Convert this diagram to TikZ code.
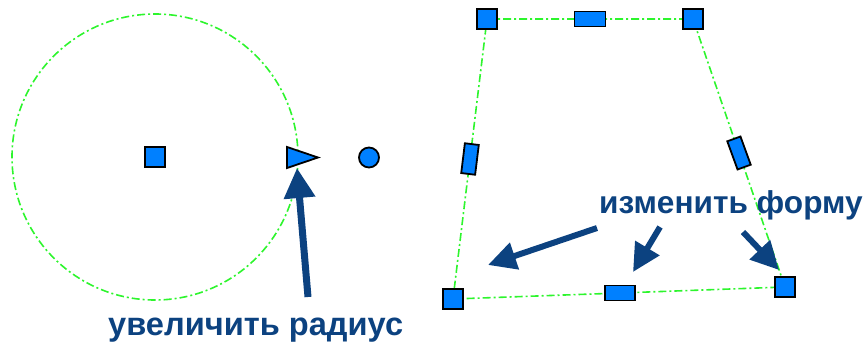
\documentclass[tikz,border=0pt]{standalone}
\usepackage{fontspec}
\setmainfont{Liberation Sans}
\usetikzlibrary{arrows.meta,backgrounds}
\definecolor{handleblue}{RGB}{0,128,255}
\definecolor{navy}{RGB}{12,66,128}
\definecolor{guide}{RGB}{45,245,45}
\begin{document}
\begin{tikzpicture}[x=1pt,y=-1pt,
  handle/.style={draw=black,line width=1.8pt,fill=handleblue,inner sep=0pt,rectangle},
  sq/.style={handle,minimum width=20pt,minimum height=20pt},
  guideline/.style={draw=guide,line width=1.6pt,dash pattern=on 8pt off 3pt on 2pt off 3pt},
  bigarrow/.style={draw=navy,line width=7pt,-{Triangle[length=30pt,width=30pt]}},
  midarrow/.style={draw=navy,line width=6pt,-{Triangle[length=28pt,width=27pt]}},
  lbl/.style={font=\bfseries\fontsize{32.6}{32.6}\selectfont,text=navy,inner sep=0pt,anchor=base west}]
\useasboundingbox (0,0) rectangle (866,343);
% circle
\node[sq] (cc) at (155,157) {};
\begin{scope}[on background layer]
\draw[guideline] (cc) circle[radius=143];
\end{scope}
\draw[handle] (287,147) -- (318,157.5) -- (287,168) -- cycle;
\coordinate (rtip) at (297,168);
\node[handle,circle,minimum size=20pt] (dot) at (369,157.5) {};
\coordinate (a1s) at (308,297);
\draw[bigarrow] (a1s) -- (rtip);
\node[lbl] (t1) at (108,335) {увеличить радиус};
% trapezoid
\node[sq] (tl) at (487,19) {};
\node[handle,minimum width=31pt,minimum height=15pt] (tm) at (590,19) {};
\node[sq] (tr) at (693,19) {};
\node[handle,minimum width=14pt,minimum height=30pt,rotate=-7] (lm) at (470,159) {};
\node[handle,minimum width=14pt,minimum height=30pt,rotate=20] (rm) at (739,153) {};
\node[sq] (bl) at (453,299) {};
\node[handle,minimum width=30pt,minimum height=15pt] (bm) at (620,293) {};
\node[sq] (br) at (785,287) {};
\begin{scope}[on background layer]
\draw[guideline] (tl.center) -- (tm.center) -- (tr.center) -- (rm.center) -- (br.center) -- (bm.center) -- (bl.center) -- (lm.center) -- cycle;
\end{scope}
\node[lbl,font=\bfseries\fontsize{31.6}{31.6}\selectfont] (t2) at (599,213) {изменить форму};
\coordinate (aas) at (597,228);
\coordinate (aat) at (488,265);
\coordinate (abs) at (660,227);
\coordinate (abt) at (633,272);
\coordinate (acs) at (743,232);
\coordinate (act) at (779,270);
\draw[midarrow] (aas) -- (aat);
\draw[midarrow] (abs) -- (abt);
\draw[midarrow] (acs) -- (act);
\end{tikzpicture}
\end{document}
